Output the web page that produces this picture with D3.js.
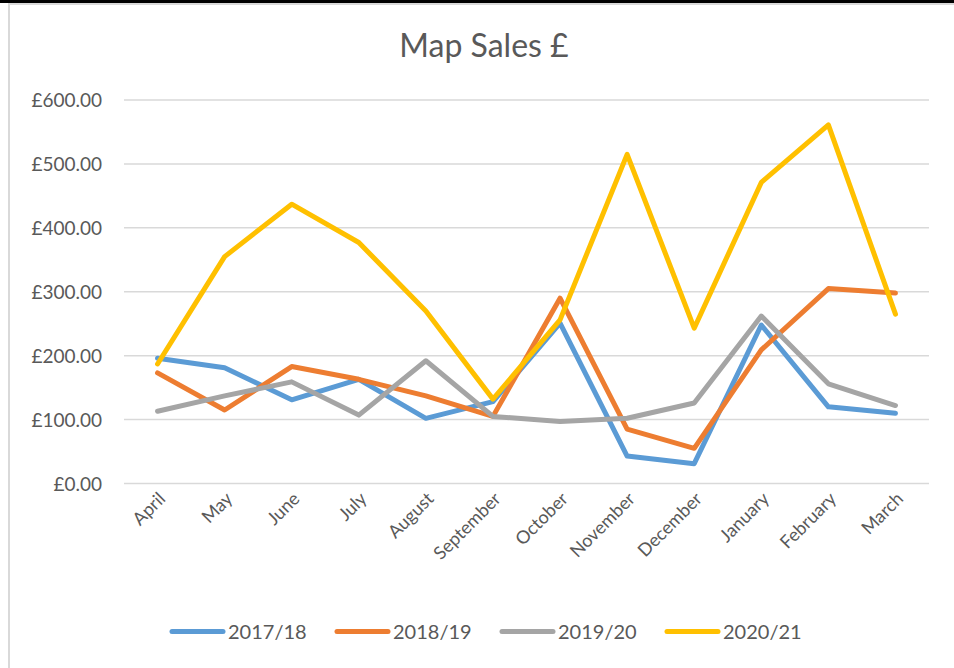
<!DOCTYPE html>
<html lang="en">
<head>
  <meta charset="UTF-8">
  <title>Map Sales</title>
  <script src="https://cdn.jsdelivr.net/npm/d3@7"></script>
  <style>
    body { margin: 0; background: #fff; }
    text { font-family: Lato, "Open Sans", sans-serif; fill: #595959; }
  </style>
</head>
<body>
<div id="chart"></div>
<script>

// chart data
var months = ["April","May","June","July","August","September","October","November","December","January","February","March"];
var seriesNames = ["2017/18","2018/19","2019/20","2020/21"];
var sales1718 = [196,181,131,163,102,128,251,43,31,248,120,110];
var sales1819 = [173,115,183,163,137,105,290,85,55,209,305,298];
var sales1920 = [113,137,159,107,192,105,97,102,126,262,156,122];
var sales2021 = [187,355,437,377,270,132,256,515,243,471,561,265];
var yTicks = [0,100,200,300,400,500,600];

var colors = ["#5B9BD5","#ED7D31","#A5A5A5","#FFC000"];
var allSeries = [sales1718, sales1819, sales1920, sales2021];

var W = 954, H = 668;

var svg = d3.select("#chart")
    .append("svg")
    .attr("width", W)
    .attr("height", H);

// frame
svg.append("rect").attr("x",0).attr("y",0).attr("width",W).attr("height",3).attr("fill","#000");
svg.append("rect").attr("x",8).attr("y",3).attr("width",W-8).attr("height",2).attr("fill","#d9d9d9");
svg.append("rect").attr("x",8).attr("y",3).attr("width",2).attr("height",H-3).attr("fill","#d9d9d9");

var x = d3.scaleBand()
    .domain(months)
    .range([124, 929]);

var y = d3.scaleLinear()
    .domain([0,600])
    .range([483.5,100]);

// title
svg.append("text")
    .attr("x", 484)
    .attr("y", 57)
    .attr("text-anchor","middle")
    .style("font-size","32px")
    .text("Map Sales £");

// gridlines
svg.selectAll("line.grid")
    .data(yTicks)
    .enter().append("line")
    .attr("class","grid")
    .attr("x1",124).attr("x2",929)
    .attr("y1",function(d){return y(d);})
    .attr("y2",function(d){return y(d);})
    .attr("stroke","#d9d9d9")
    .attr("stroke-width",1.5);

// y labels
svg.selectAll("text.ylab")
    .data(yTicks)
    .enter().append("text")
    .attr("class","ylab")
    .attr("x",102)
    .attr("y",function(d){return y(d)+7;})
    .attr("text-anchor","end")
    .style("font-size","19px")
    .text(function(d){return "£" + d.toFixed(2);});

// x labels
svg.selectAll("text.xlab")
    .data(months)
    .enter().append("text")
    .attr("class","xlab")
    .attr("text-anchor","end")
    .attr("transform",function(d){
        var cx = x(d) + x.bandwidth()/2;
        return "translate(" + (cx+9) + "," + 500 + ") rotate(-45)";
    })
    .style("font-size","18px")
    .text(function(d){return d;});

// lines
var line = d3.line()
    .x(function(d,i){return x(months[i]) + x.bandwidth()/2;})
    .y(function(d){return y(d);});

svg.selectAll("path.series")
    .data(allSeries)
    .enter().append("path")
    .attr("class","series")
    .attr("d",function(d){return line(d);})
    .attr("fill","none")
    .attr("stroke",function(d,i){return colors[i];})
    .attr("stroke-width",5)
    .attr("stroke-linejoin","round")
    .attr("stroke-linecap","round");

// legend
var legendX = [170, 335, 500, 665];
var legend = svg.selectAll("g.legend")
    .data(seriesNames)
    .enter().append("g")
    .attr("class","legend")
    .attr("transform",function(d,i){return "translate(" + legendX[i] + ",631.5)";});

legend.append("line")
    .attr("x1",2).attr("x2",53)
    .attr("y1",0).attr("y2",0)
    .attr("stroke",function(d,i){return colors[i];})
    .attr("stroke-width",5)
    .attr("stroke-linecap","round");

legend.append("text")
    .attr("x",58)
    .attr("y",7)
    .style("font-size","20px")
    .text(function(d){return d;});

</script>
</body>
</html>
